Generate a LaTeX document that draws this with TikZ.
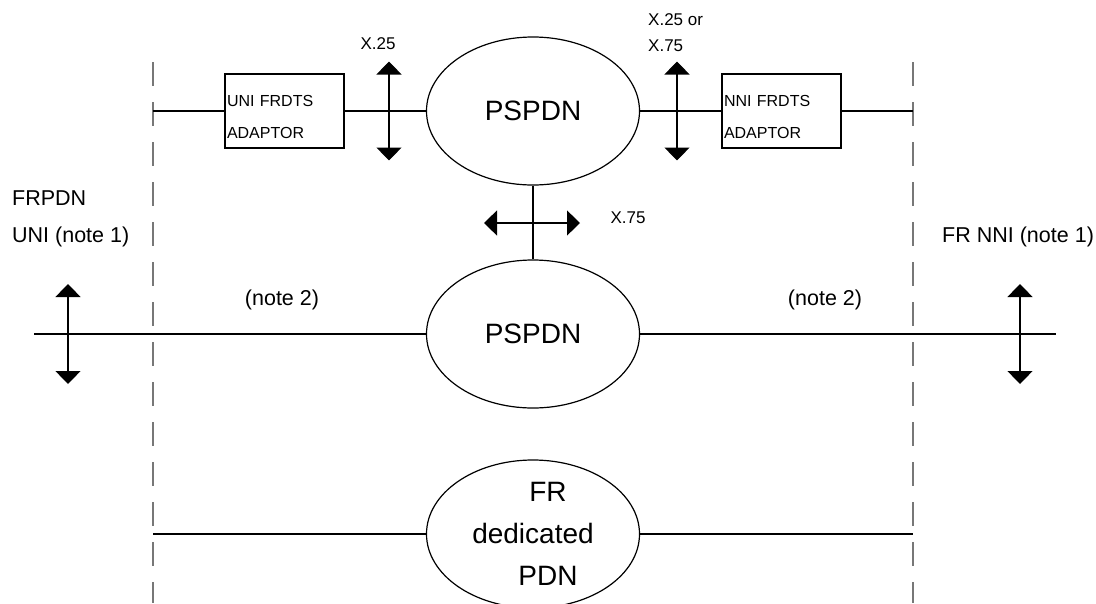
\documentclass[tikz,border=0pt]{standalone}
\usepackage{fontspec}
\setmainfont{Liberation Sans}
\usetikzlibrary{shapes.geometric,arrows.meta,positioning}
\definecolor{DashGray}{HTML}{777777}
\tikzset{
  net/.style={draw, ellipse, line width=1.2pt, minimum width=213pt,
    minimum height=148pt, inner sep=0pt, align=center,
    font=\fontsize{28}{42}\selectfont},
  adaptor/.style={draw, line width=1.2pt, minimum width=119pt,
    minimum height=74pt, text width=115pt, text height=23pt, inner sep=2pt,
    align=left, font=\fontsize{16}{32}\selectfont},
  link/.style={line width=1.2pt},
  iface/.style={line width=1.2pt,
    {Triangle[width=25pt,length=13pt]}-{Triangle[width=25pt,length=13pt]}},
  border/.style={DashGray, line width=1.2pt, dash pattern=on 24pt off 16pt},
  lbl/.style={font=\fontsize{17}{26}\selectfont, align=left, inner sep=0pt},
  biglbl/.style={font=\fontsize{21.5}{37}\selectfont, align=left, inner sep=0pt},
}
\begin{document}
\begin{tikzpicture}[x=1pt, y=-1pt]
      \useasboundingbox (0,0) rectangle (1096,603);
      % Boundaries
      \coordinate (lEdgeTop) at (153,62);
      \coordinate (lEdgeBot) at (153,603);
      \coordinate (rEdgeTop) at (913,62);
      \coordinate (rEdgeBot) at (913,603);
      \draw[border] (lEdgeTop) -- (lEdgeBot);
      \draw[border] (rEdgeTop) -- (rEdgeBot);
      % Networks
      \node[net] (psTop) at (533,111) {PSPDN};
      \node[net] (psMid) at (533,334) {PSPDN};
      \node[net] (frPdn) at (533,534) {\hspace*{30pt}FR\\dedicated\\\hspace*{30pt}PDN};
      \node[adaptor] (uniBox) at (284.5,111) {UNI FRDTS\\ADAPTOR};
      \node[adaptor] (nniBox) at (781.5,111) {NNI FRDTS\\ADAPTOR};
      % Links
      \coordinate (lTop) at (153,111);
      \coordinate (rTop) at (913,111);
      \coordinate (lMid) at (34,334);
      \coordinate (rMid) at (1056,334);
      \coordinate (lBot) at (153,534);
      \coordinate (rBot) at (913,534);
      \draw[link] (lTop) -- (uniBox) -- (psTop) -- (nniBox) -- (rTop);
      \draw[link] (psTop) -- (psMid);
      \draw[link] (lMid) -- (psMid) -- (rMid);
      \draw[link] (lBot) -- (frPdn) -- (rBot);
      % Interfaces
      \coordinate (x25If) at (389,111);
      \coordinate (xorIf) at (677,111);
      \coordinate (x75If) at (532,223);
      \coordinate (uniIf) at (68,334);
      \coordinate (nniIf) at (1020,334);
      \draw[iface] ([yshift=49.5pt]x25If) -- ([yshift=-49.5pt]x25If);
      \draw[iface] ([yshift=49.5pt]xorIf) -- ([yshift=-49.5pt]xorIf);
      \draw[iface] ([xshift=-48pt]x75If) -- ([xshift=48pt]x75If);
      \draw[iface] ([yshift=50pt]uniIf) -- ([yshift=-50pt]uniIf);
      \draw[iface] ([yshift=50pt]nniIf) -- ([yshift=-50pt]nniIf);
      % Labels
      \node[lbl] (x25Lbl) at (378,44) {X.25};
      \node[lbl, anchor=west] (xorLbl) at (648,33) {X.25 or\\X.75};
      \node[lbl] (x75Lbl) at (628,218) {X.75};
      \node[biglbl, anchor=west] (uniLbl) at (12,219) {FRPDN\\UNI (note 1)};
      \node[biglbl, anchor=west] (nniLbl) at (942,237) {FR NNI (note 1)};
      \node[biglbl] (noteL) at (282,300) {(note 2)};
      \node[biglbl] (noteR) at (825,300) {(note 2)};
    \end{tikzpicture}
\end{document}
